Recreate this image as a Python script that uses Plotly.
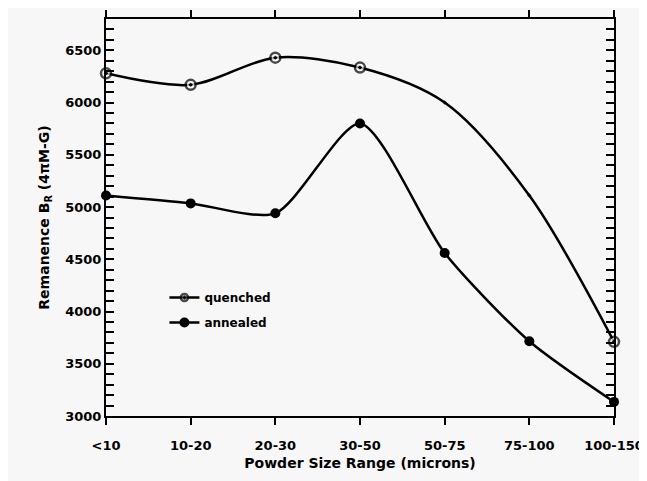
import plotly.graph_objects as go

categories = ["<10", "10-20", "20-30", "30-50", "50-75", "75-100", "100-150"]
quenched = [6280, 6170, 6430, 6335, 6000, 5110, 3710]
quenched_marked = [True, True, True, True, False, False, True]
annealed = [5110, 5035, 4940, 5800, 4560, 3715, 3135]

y_ticks = [3000, 3500, 4000, 4500, 5000, 5500, 6000, 6500]

fig = go.Figure()
fig.add_trace(go.Scatter(
    x=categories, y=quenched, name="quenched", mode="lines+markers",
    legendgroup="q", cliponaxis=False,
    line=dict(color="black", width=2.5, shape="spline", smoothing=0.9),
    marker=dict(symbol="circle-dot", color="white",
                size=[10 if m else 0 for m in quenched_marked],
                line=dict(color="black", width=2.5)),
))
fig.add_trace(go.Scatter(
    x=categories, y=annealed, name="annealed", mode="lines+markers",
    legendgroup="a", cliponaxis=False,
    line=dict(color="black", width=2.5, shape="spline", smoothing=0.7),
    marker=dict(symbol="circle", color="black", size=10),
))
# invisible helper trace so the label axis (x2) is rendered
fig.add_trace(go.Scatter(
    x=list(range(len(categories))), y=annealed, xaxis="x2", yaxis="y",
    mode="markers", marker=dict(opacity=0, size=1),
    showlegend=False, hoverinfo="skip",
))

font_family = "DejaVu Sans, Liberation Sans, sans-serif"
fig.update_layout(
    width=639, height=473,
    margin=dict(l=98, r=33, t=11, b=65, autoexpand=False),
    paper_bgcolor="#f7f7f7", plot_bgcolor="#f7f7f7",
    font=dict(family=font_family, color="black", size=13),
    legend=dict(x=0.115, y=0.335, xanchor="left", yanchor="top",
                tracegroupgap=6,
                bgcolor="rgba(0,0,0,0)", font=dict(size=12, family=font_family, weight="bold")),
    showlegend=True,
    xaxis=dict(
        type="category", range=[0, 6], automargin=False,
        showline=True, linecolor="black", linewidth=2, mirror="allticks",
        ticks="outside", ticklen=7, tickwidth=2, tickcolor="black",
        showticklabels=False,
        showgrid=False, zeroline=False,
    ),
    xaxis2=dict(
        overlaying="x", anchor="y", side="bottom", range=[0, len(categories) - 1],
        tickvals=list(range(len(categories))), ticktext=categories,
        ticks="", showline=False, showgrid=False, zeroline=False,
        automargin=False, ticklabelstandoff=20,
        tickfont=dict(size=13, family=font_family, weight="bold"),
        title=dict(text="Powder Size Range (microns)", standoff=6,
                   font=dict(size=14, family=font_family, weight="bold")),
    ),
)
fig.update_yaxes(
    range=[3000, 6800], tickvals=y_ticks, automargin=False,
    showline=True, linecolor="black", linewidth=2, mirror="allticks",
    ticks="inside", ticklen=8, tickwidth=2, tickcolor="black",
    minor=dict(dtick=100, ticks="inside", ticklen=4, tickwidth=1.5, tickcolor="black"),
    showgrid=False, zeroline=False,
    tickfont=dict(size=13, family=font_family, weight="bold"),
    ticksuffix="   ",
    title=dict(text="Remanence B<sub>R</sub> (4πM-G)", standoff=12,
               font=dict(size=14, family=font_family, weight="bold")),
)

fig.write_html("out.html")
